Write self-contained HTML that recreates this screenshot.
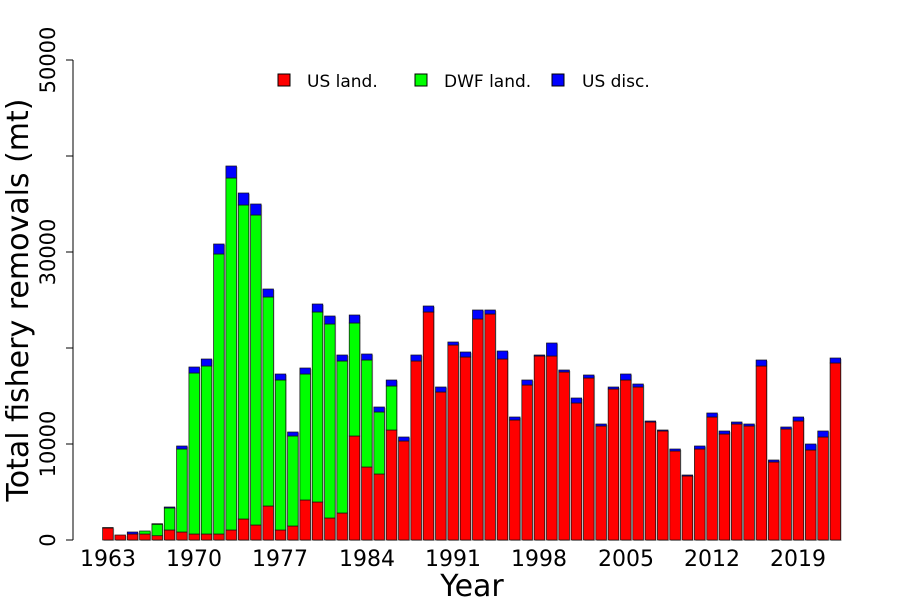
<!DOCTYPE html>
<html><head><meta charset="utf-8"><style>
html,body{margin:0;padding:0;background:#fff;}
svg{display:block;font-family:"DejaVu Sans","Liberation Sans",sans-serif;}
</style></head><body>
<svg id="c" width="900" height="600" viewBox="0 0 900 600" xmlns="http://www.w3.org/2000/svg">
<g id="bars"></g>
<line x1="73" y1="60" x2="73" y2="540" stroke="#000" stroke-width="1"/>
<g stroke="#000" stroke-width="1">
<line x1="66" y1="540" x2="73" y2="540"/><line x1="66" y1="444" x2="73" y2="444"/>
<line x1="66" y1="348" x2="73" y2="348"/><line x1="66" y1="252" x2="73" y2="252"/>
<line x1="66" y1="156" x2="73" y2="156"/><line x1="66" y1="60" x2="73" y2="60"/>
</g>
<g font-size="21" text-anchor="middle" fill="#000">
<text transform="translate(55,540) rotate(-90)">0</text>
<text transform="translate(55,444) rotate(-90)">10000</text>
<text transform="translate(55,252) rotate(-90)">30000</text>
<text transform="translate(55,60) rotate(-90)">50000</text>
</g>
<text transform="translate(28,300) rotate(-90)" font-size="30" text-anchor="middle">Total fishery removals (mt)</text>
<g font-size="22" text-anchor="middle">
<text x="108" y="566">1963</text><text x="194" y="566">1970</text><text x="280" y="566">1977</text>
<text x="367" y="566">1984</text><text x="453" y="566">1991</text><text x="539" y="566">1998</text>
<text x="626" y="566">2005</text><text x="712" y="566">2012</text><text x="798" y="566">2019</text>
</g>
<text x="472" y="596" font-size="30" text-anchor="middle">Year</text>
<g font-size="17">
<rect x="278" y="74" width="12" height="12" fill="#f00" stroke="#000"/><text x="307" y="87">US land.</text>
<rect x="415" y="74" width="12" height="12" fill="#0f0" stroke="#000"/><text x="444" y="87">DWF land.</text>
<rect x="552" y="74" width="12" height="12" fill="#00f" stroke="#000"/><text x="582" y="87">US disc.</text>
</g>
</svg>
<script>
var d=[[528,528,527.5],[535,535,535],[534,534,532],[534,531,531],[535.7,524.3,523.7],[530,508,507],[532,449,446],[534,373,367],[534,366,359],[534,254,244],[530,178,166],[519,205,193],[525,215,204],[506,297,289],[530,380,374],[526,436,432],[500,374,368],[502,312,304],[518,324,316],[513,361,355],[436,323,315],[467,360,354],[474,412,407],[430,386,380],
[441,441,437],[361,361,355],[312,312,306],[392,392,387],[345,345,342],[357,357,352],[319,319,310],[314,314,310],[359,359,351],[420,420,417],[385,385,380],[356,356,355],[356,356,343],[372,372,370],[403,403,398],[378,378,375],[426,426,424],[389,389,387],[380,380,374],[387,387,384],[422,422,421],[431,431,430],[451,451,449],[476,476,475],[449,449,446],[417,417,413],[434,434,431],[424,424,422],[426,426,424],[366,366,360],[462,462,460],[429,429,427],[421,421,417],[450,450,444],[437,437,431],[363,363,358]];
var g=document.getElementById('bars'),s='',B=540,w=10.6;
d.forEach(function(v,i){var x=102.6+i*12.33;
 s+='<rect x="'+(x+1)+'" y="'+(v[2]+1)+'" width="'+w+'" height="'+(B-v[2])+'" fill="#bbb"/>';
 function r(y0,y1,c){if(y1-y0>0.3)s+='<rect x="'+x+'" y="'+y0+'" width="'+w+'" height="'+(y1-y0)+'" fill="'+c+'" stroke="#111" stroke-width="0.7"/>';}
 r(v[0],B,'#f00');r(v[1],v[0],'#0f0');r(v[2],v[1],'#00f');});
g.innerHTML=s;
</script>
</body></html>
